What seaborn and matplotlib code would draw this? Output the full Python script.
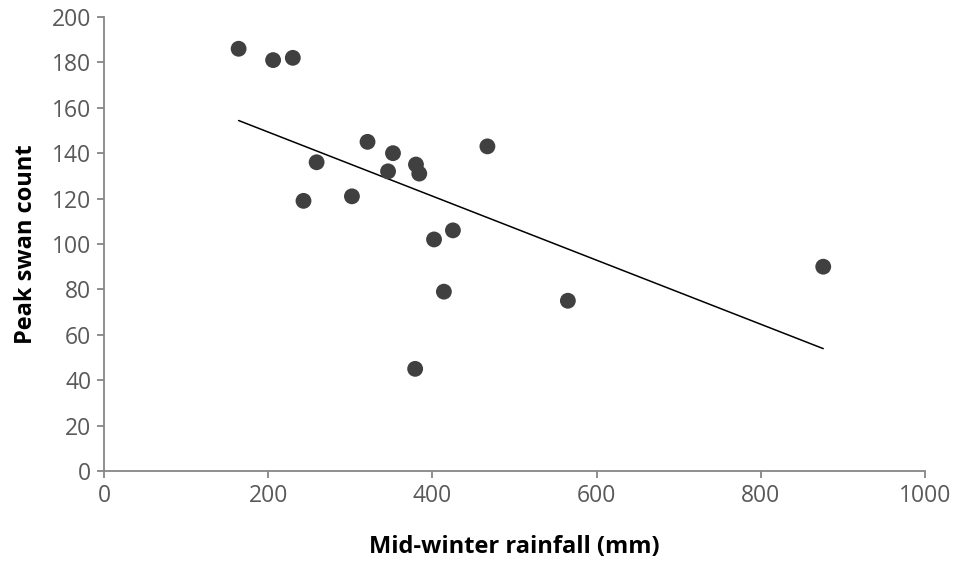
import matplotlib
matplotlib.use("Agg")
import matplotlib.pyplot as plt
import seaborn as sns
import pandas as pd

# Mid-winter rainfall (mm) vs peak swan count
rainfall = [164, 206, 230, 243, 259, 302, 321, 346, 352, 380, 384, 379,
            402, 414, 425, 467, 565, 876]
swans = [186, 181, 182, 119, 136, 121, 145, 132, 140, 135, 131, 45,
         102, 79, 106, 143, 75, 90]
x_ticks = [0, 200, 400, 600, 800, 1000]
y_ticks = [0, 20, 40, 60, 80, 100, 120, 140, 160, 180, 200]

df = pd.DataFrame({"rainfall": rainfall, "swans": swans})

sns.set_theme(style="white")
plt.rcParams["font.family"] = ["Open Sans", "DejaVu Sans"]

axis_col = "#868686"
text_col = "#595959"

fig = plt.figure(figsize=(9.59, 5.62), dpi=100)
ax = fig.add_axes([0.1084, 0.1619, 0.8562, 0.8079])

sns.scatterplot(data=df, x="rainfall", y="swans", ax=ax, s=130,
                color="#404040", edgecolor="none", zorder=3)
sns.regplot(data=df, x="rainfall", y="swans", ax=ax, scatter=False,
            ci=None, truncate=True, line_kws={"color": "black", "lw": 1.1})

ax.set_xlim(0, 1000)
ax.set_ylim(0, 200)
ax.set_xticks(x_ticks)
ax.set_yticks(y_ticks)

for side in ["top", "right"]:
    ax.spines[side].set_visible(False)
for side in ["left", "bottom"]:
    ax.spines[side].set_color(axis_col)
    ax.spines[side].set_linewidth(1.3)

ax.tick_params(axis="both", direction="out", length=5, width=1.3,
               color=axis_col, labelcolor=text_col, labelsize=16.5, pad=4)
ax.tick_params(axis="x", bottom=True)
ax.tick_params(axis="y", left=True)

ax.set_xlabel("Mid-winter rainfall (mm)", fontsize=17, fontweight="bold",
              color="black", labelpad=20)
ax.set_ylabel("Peak swan count", fontsize=17, fontweight="bold",
              color="black", labelpad=10)

fig.savefig("out.png", dpi=100)
